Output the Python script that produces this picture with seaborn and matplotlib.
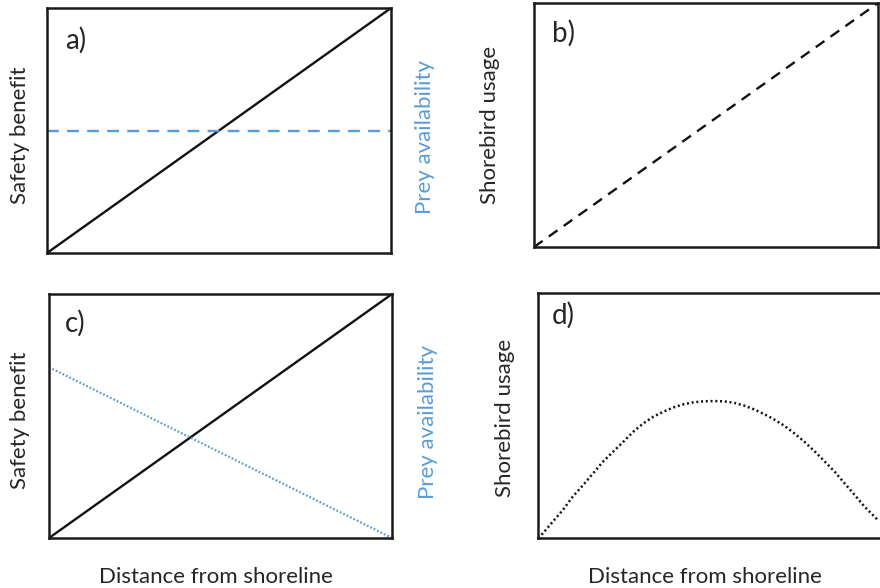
import numpy as np
import pandas as pd
import matplotlib
matplotlib.use("Agg")
import matplotlib.pyplot as plt
import seaborn as sns

# values, axes scaled 0..1
dist = [0.0, 1.0]
safety = [0.0, 1.0]
prey_a = [0.5, 0.5]
usage_b = [0.0, 1.0]
prey_c = [0.70, 0.0]
dist_d = [0.0, 0.014, 0.043, 0.072, 0.101, 0.131, 0.160, 0.189, 0.218, 0.248, 0.277,
          0.306, 0.335, 0.365, 0.394, 0.423, 0.452, 0.481, 0.511, 0.540, 0.569,
          0.598, 0.628, 0.657, 0.686, 0.715, 0.745, 0.774, 0.803, 0.832, 0.862,
          0.891, 0.920, 0.949, 0.988]
usage_d = [0.0, 0.019, 0.067, 0.114, 0.169, 0.216, 0.264, 0.312, 0.352, 0.393, 0.434,
           0.468, 0.495, 0.516, 0.533, 0.546, 0.554, 0.558, 0.559, 0.558, 0.552,
           0.541, 0.525, 0.506, 0.484, 0.459, 0.427, 0.393, 0.355, 0.314, 0.271,
           0.223, 0.176, 0.128, 0.073]

BLUE = "#5b9bd5"
FS = 16

sns.set_style("white")
plt.rcParams["font.family"] = ["Lato", "DejaVu Sans"]
plt.rcParams["axes.linewidth"] = 1.8
plt.rcParams["axes.edgecolor"] = "#1a1a1a"

fig = plt.figure(figsize=(8.8, 5.88), dpi=100)
ax_a = fig.add_axes([0.0534, 0.5697, 0.391, 0.4167])
ax_b = fig.add_axes([0.6068, 0.5799, 0.391, 0.415])
ax_c = fig.add_axes([0.0557, 0.085, 0.3898, 0.415])
ax_d = fig.add_axes([0.6114, 0.085, 0.391, 0.4167])

# a)
sns.lineplot(x=dist, y=safety, ax=ax_a, color="#111111", lw=1.7)
sns.lineplot(x=dist, y=prey_a, ax=ax_a, color=BLUE, lw=1.7)
ax_a.lines[-1].set_dashes([5, 3.5])

# b)
sns.lineplot(x=dist, y=usage_b, ax=ax_b, color="#111111", lw=1.7)
ax_b.lines[-1].set_dashes([4.5, 3.2])

# c)
sns.lineplot(x=dist, y=safety, ax=ax_c, color="#111111", lw=1.7)
sns.lineplot(x=dist, y=prey_c, ax=ax_c, color=BLUE, lw=1.6)
ax_c.lines[-1].set_dashes([0.8, 0.9])

# d)
sns.lineplot(x=dist_d, y=usage_d, ax=ax_d, color="#111111", lw=1.8, sort=False)
ax_d.lines[-1].set_dashes([0.8, 1.1])

for ax in [ax_a, ax_b, ax_c, ax_d]:
    ax.set_xlim(0, 1)
    ax.set_ylim(0, 1)
    ax.set_xticks([])
    ax.set_yticks([])
    ax.set_xlabel("")
    ax.set_ylabel("")
    for s in ax.spines.values():
        s.set_visible(True)

# panel letters
for ax, lab, px, py in [(ax_a, "a)", 0.052, 0.87), (ax_b, "b)", 0.052, 0.877),
                        (ax_c, "c)", 0.047, 0.88), (ax_d, "d)", 0.041, 0.91)]:
    ax.text(px, py, lab, transform=ax.transAxes, fontsize=20, ha="left", va="center")

# axis titles as figure text
fig.text(20 / 880, 1 - 135 / 588, "Safety benefit", rotation=90, fontsize=FS, ha="center", va="center")
fig.text(425 / 880, 1 - 137 / 588, "Prey availability", rotation=90, fontsize=FS, ha="center", va="center", color=BLUE)
fig.text(490 / 880, 1 - 125 / 588, "Shorebird usage", rotation=90, fontsize=FS, ha="center", va="center")
fig.text(20 / 880, 1 - 420 / 588, "Safety benefit", rotation=90, fontsize=FS, ha="center", va="center")
fig.text(428 / 880, 1 - 422 / 588, "Prey availability", rotation=90, fontsize=FS, ha="center", va="center", color=BLUE)
fig.text(505 / 880, 1 - 418 / 588, "Shorebird usage", rotation=90, fontsize=FS, ha="center", va="center")
fig.text(216 / 880, 1 - 577 / 588, "Distance from shoreline", fontsize=FS, ha="center", va="center")
fig.text(705 / 880, 1 - 577 / 588, "Distance from shoreline", fontsize=FS, ha="center", va="center")

fig.savefig("out.png", dpi=100, facecolor="white")
